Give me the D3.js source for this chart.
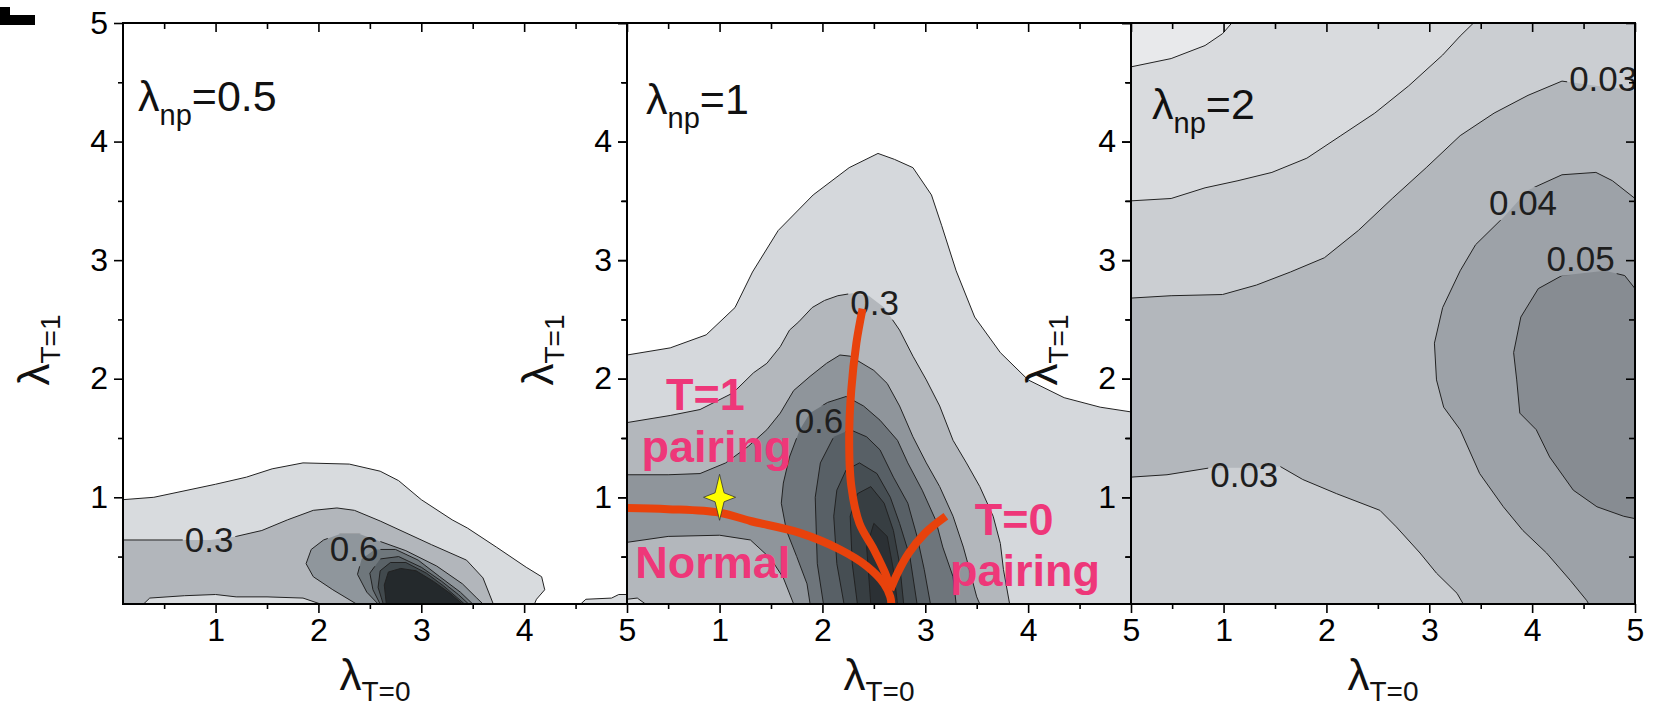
<!DOCTYPE html>
<html>
<head>
<meta charset="utf-8">
<script src="https://cdn.jsdelivr.net/npm/d3@7"></script>
<style>
  body { margin: 0; background: #fff; }
  text { font-family: "Liberation Sans", Arial, sans-serif; }
</style>
</head>
<body>
<svg id="chart" width="1653" height="709"></svg>
<script>
// ticks
const majorTicks = [1, 2, 3, 4, 5];
const minorTicks = [0.5, 1.5, 2.5, 3.5, 4.5];
const xLabels = [1, 2, 3, 4, 5];
const yLabelsFirst = [1, 2, 3, 4, 5];
const yLabelsOther = [1, 2, 3, 4];
const npValues = ["0.5", "1", "2"];

// panel 1 : lambda_np = 0.5   points are [lambda T=0, lambda T=1]
const p1Line1 = [[0.1,0.98],[0.4,1.0],[1.0,1.11],[1.3,1.17],[1.55,1.24],[1.85,1.29],[2.3,1.28],[2.6,1.22],[2.78,1.14],[3.0,0.98],[3.3,0.81],[3.45,0.74],[3.73,0.58],[4.02,0.41],[4.17,0.33],[4.2,0.22],[4.12,0.14],[4.1,0.1]];
const p1Sliver = [[4.55,0.1],[4.6,0.14],[4.85,0.15],[4.92,0.18],[5,0.18],[5,0.1]];
const p1Line2 = [[0.1,0.64],[0.95,0.64],[1.2,0.67],[1.45,0.72],[1.7,0.81],[1.95,0.89],[2.18,0.91],[2.35,0.89],[2.6,0.8],[2.9,0.68],[3.1,0.6],[3.44,0.47],[3.6,0.32],[3.7,0.1]];
const p1Strip = [[0.3,0.1],[0.36,0.15],[0.7,0.17],[1.0,0.18],[1.2,0.16],[1.5,0.16],[1.85,0.15],[2.02,0.1]];
const p1Line3 = [[2.37,0.1],[2.14,0.22],[1.95,0.33],[1.88,0.44],[1.93,0.56],[2.05,0.64],[2.21,0.69],[2.4,0.69],[2.56,0.64],[2.85,0.55],[3.15,0.42],[3.4,0.27],[3.54,0.15],[3.6,0.1]];
const p1Line4 = [[2.58,0.1],[2.47,0.2],[2.38,0.35],[2.42,0.48],[2.55,0.56],[2.75,0.56],[2.97,0.47],[3.18,0.33],[3.38,0.2],[3.5,0.1]];
const p1Line5 = [[2.6,0.1],[2.53,0.22],[2.5,0.36],[2.6,0.48],[2.78,0.5],[3.0,0.41],[3.2,0.29],[3.36,0.18],[3.46,0.1]];
const p1Line6 = [[2.63,0.1],[2.58,0.24],[2.6,0.38],[2.7,0.45],[2.85,0.45],[3.05,0.36],[3.22,0.25],[3.42,0.1]];
const p1Line7 = [[2.66,0.1],[2.64,0.26],[2.68,0.37],[2.8,0.4],[2.95,0.38],[3.12,0.29],[3.28,0.19],[3.4,0.1]];
const p1Colors = ["#d8dbde", "#b2b6bb", "#8f969c", "#6f777c", "#5a6267", "#41494d", "#24292c"];
const p1LabelText = ["0.3", "0.6"];
const p1LabelAt = [[0.7, 0.54], [2.11, 0.46]];

// panel 2 : lambda_np = 1
const p2Line1 = [[0.1,2.2],[0.52,2.26],[0.87,2.37],[1.15,2.6],[1.32,2.9],[1.57,3.25],[1.91,3.55],[2.26,3.78],[2.54,3.9],[2.7,3.85],[2.88,3.78],[3.06,3.55],[3.16,3.29],[3.3,2.91],[3.48,2.52],[3.73,2.22],[4.0,1.99],[4.35,1.84],[4.7,1.76],[5.0,1.72]];
const p2Line2 = [[0.1,1.63],[0.52,1.69],[0.81,1.74],[1.13,1.88],[1.33,2.05],[1.46,2.13],[1.59,2.27],[1.68,2.41],[1.77,2.48],[1.9,2.6],[2.02,2.66],[2.15,2.7],[2.29,2.72],[2.45,2.7],[2.6,2.6],[2.75,2.41],[2.88,2.19],[3.01,1.99],[3.14,1.77],[3.27,1.48],[3.4,1.29],[3.53,1.09],[3.66,0.84],[3.73,0.61],[3.76,0.39],[3.82,0.1]];
const p2Sliver = [[0.1,0.1],[0.1,0.14],[0.2,0.15],[0.28,0.1]];
const p2Line3 = [[0.1,1.19],[0.5,1.19],[0.81,1.2],[1.06,1.29],[1.28,1.43],[1.46,1.57],[1.59,1.71],[1.72,1.9],[1.88,2.02],[2.04,2.13],[2.17,2.2],[2.27,2.19],[2.5,2.07],[2.63,1.96],[2.75,1.77],[2.88,1.51],[3.01,1.29],[3.14,1.09],[3.27,0.84],[3.37,0.58],[3.43,0.39],[3.5,0.16],[3.53,0.1]];
const p2Line3Low = [[1.72,0.1],[1.62,0.32],[1.5,0.48],[1.3,0.64],[1.0,0.68],[0.5,0.67],[0.1,0.62]];
const p2Line4 = [[1.88,0.1],[1.85,0.27],[1.75,0.5],[1.65,0.72],[1.6,0.95],[1.62,1.12],[1.68,1.34],[1.78,1.57],[1.88,1.71],[2.05,1.8],[2.23,1.85],[2.4,1.77],[2.56,1.65],[2.73,1.48],[2.83,1.29],[2.97,1.06],[3.1,0.81],[3.17,0.58],[3.27,0.33],[3.3,0.1]];
const p2Line5 = [[2.01,0.1],[1.95,0.44],[1.93,1.0],[1.98,1.29],[2.11,1.51],[2.27,1.57],[2.43,1.51],[2.56,1.4],[2.69,1.17],[2.83,0.95],[2.92,0.67],[2.99,0.39],[3.05,0.1]];
const p2Line6 = [[2.21,0.1],[2.14,0.44],[2.11,0.84],[2.14,1.06],[2.23,1.23],[2.36,1.29],[2.53,1.2],[2.66,1.0],[2.75,0.78],[2.85,0.5],[2.92,0.1]];
const p2Line7 = [[2.34,0.1],[2.29,0.44],[2.27,0.84],[2.34,1.03],[2.47,1.09],[2.6,0.95],[2.69,0.72],[2.75,0.44],[2.79,0.1]];
const p2Line8 = [[2.47,0.1],[2.43,0.58],[2.5,0.78],[2.63,0.67],[2.69,0.39],[2.73,0.1]];
const p2Colors = ["#d5d8dc", "#b3b7bc", "#8f959b", "#6e757b", "#586066", "#464e53", "#373e42", "#2b3034"];
const p2LabelText = ["0.3", "0.6"];
const p2LabelAt = [[2.27, 2.54], [1.73, 1.54]];

// phase boundaries and point in panel 2
const normalBoundary = [[0.1,0.91],[0.5,0.9],[1.0,0.87],[1.3,0.8],[1.78,0.7],[2.17,0.56],[2.43,0.42],[2.6,0.27],[2.66,0.16],[2.67,0.1]];
const t1Boundary = [[2.39,2.59],[2.33,2.3],[2.28,1.9],[2.26,1.5],[2.28,1.1],[2.36,0.78],[2.5,0.56],[2.62,0.34],[2.66,0.22]];
const t0Boundary = [[3.2,0.84],[3.0,0.7],[2.84,0.53],[2.73,0.36],[2.66,0.22]];
const starPoint = [1.0, 1.0];
const phaseText = ["T=1", "pairing", "Normal", "T=0", "pairing"];
const phaseAt = [[0.48, 1.74], [0.24, 1.3], [0.18, 0.32], [3.48, 0.68], [3.24, 0.25]];

// panel 3 : lambda_np = 2
const p3Line0 = [[0.1,4.63],[0.49,4.7],[0.82,4.81],[0.99,4.91],[1.08,5.0]];
const p3Line1 = [[0.1,3.5],[0.49,3.52],[0.82,3.61],[1.14,3.67],[1.47,3.74],[1.81,3.86],[2.14,4.05],[2.47,4.24],[2.8,4.47],[3.13,4.73],[3.3,4.89],[3.43,5.0]];
const p3Line2 = [[0.1,2.68],[0.49,2.7],[0.99,2.71],[1.32,2.79],[1.65,2.9],[1.98,3.02],[2.31,3.25],[2.64,3.52],[2.97,3.78],[3.3,4.05],[3.63,4.24],[3.96,4.39],[4.29,4.51],[4.62,4.47],[5.0,4.43]];
const p3Line2Low = [[0.1,1.17],[0.45,1.19],[0.88,1.25],[1.3,1.25],[1.55,1.26],[1.77,1.15],[2.1,1.03],[2.52,0.89],[2.68,0.75],[2.91,0.53],[3.07,0.36],[3.27,0.19],[3.33,0.1]];
const p3Line3 = [[5.0,3.52],[4.78,3.67],[4.62,3.74],[4.29,3.72],[3.96,3.59],[3.72,3.36],[3.45,3.13],[3.3,2.91],[3.13,2.6],[3.05,2.3],[3.07,1.99],[3.14,1.76],[3.3,1.57],[3.49,1.2],[3.72,0.92],[3.91,0.72],[4.14,0.53],[4.37,0.3],[4.53,0.13],[4.55,0.1]];
const p3Line4 = [[5.0,2.76],[4.9,2.87],[4.71,2.91],[4.29,2.87],[4.06,2.76],[3.89,2.52],[3.82,2.22],[3.85,1.99],[3.88,1.71],[4.04,1.57],[4.17,1.34],[4.4,1.06],[4.63,0.92],[4.89,0.84],[5.0,0.82]];
const p3Colors = ["#e8e9eb", "#d9dbde", "#cbced2", "#b3b7bc", "#9da2a8", "#878c92"];
const p3LabelText = ["0.03", "0.04", "0.05", "0.03"];
const p3LabelAt = [[4.36, 4.43], [3.58, 3.38], [4.14, 2.91], [0.87, 1.09]];

const lo = 0.1, hi = 5;
const panels = [
  {
    base: "#ffffff",
    regions: [
      [p1Line1.concat([[lo, lo]]), p1Colors[0]],
      [p1Sliver, p1Colors[0]],
      [p1Line2.concat([[lo, lo]]), p1Colors[1]],
      [p1Strip, p1Colors[0]],
      [p1Line3, p1Colors[2]],
      [p1Line4, p1Colors[3]],
      [p1Line5, p1Colors[4]],
      [p1Line6, p1Colors[5]],
      [p1Line7, p1Colors[6]]
    ],
    labels: p1LabelText.map((t, i) => [t, p1LabelAt[i]]),
    yLabels: yLabelsFirst
  },
  {
    base: "#ffffff",
    regions: [
      [p2Line1.concat([[hi, lo], [lo, lo]]), p2Colors[0]],
      [p2Line2.concat([[lo, lo]]), p2Colors[1]],
      [p2Sliver, p2Colors[0]],
      [p2Line3.concat(p2Line3Low), p2Colors[2]],
      [p2Line4, p2Colors[3]],
      [p2Line5, p2Colors[4]],
      [p2Line6, p2Colors[5]],
      [p2Line7, p2Colors[6]],
      [p2Line8, p2Colors[7]]
    ],
    labels: p2LabelText.map((t, i) => [t, p2LabelAt[i]]),
    yLabels: yLabelsOther
  },
  {
    base: p3Colors[0],
    regions: [
      [p3Line0.concat([[hi, hi], [hi, lo], [lo, lo]]), p3Colors[1]],
      [p3Line1.concat([[hi, hi], [hi, lo], [lo, lo]]), p3Colors[2]],
      [p3Line2.concat([[hi, lo]], p3Line2Low.slice().reverse()), p3Colors[3]],
      [p3Line3.concat([[hi, lo]]), p3Colors[4]],
      [p3Line4, p3Colors[5]]
    ],
    labels: p3LabelText.map((t, i) => [t, p3LabelAt[i]]),
    yLabels: yLabelsOther
  }
];

// layout
const panelLeft = [123, 627, 1131];
const plotW = 504, plotTop = 23, plotBottom = 604;
const npLeft = [15, 19, 21];
const npBase = [111, 114, 119];

const svg = d3.select("#chart");
const defs = svg.append("defs");
svg.append("rect").attr("width", 1653).attr("height", 709).attr("fill", "#fff");

const scales = panels.map((p, i) => ({
  x: d3.scaleLinear().domain([lo, hi]).range([panelLeft[i], panelLeft[i] + plotW]),
  y: d3.scaleLinear().domain([lo, hi]).range([plotBottom, plotTop])
}));

// contour fills, lines and labels
panels.forEach((p, i) => {
  const {x, y} = scales[i];
  const gen = d3.line().x(d => x(d[0])).y(d => y(d[1]));

  defs.append("clipPath").attr("id", "clip" + i)
    .append("rect")
    .attr("x", x(lo)).attr("y", y(hi))
    .attr("width", plotW).attr("height", plotBottom - plotTop);

  const plot = svg.append("g").attr("clip-path", `url(#clip${i})`);
  plot.append("rect")
    .attr("x", x(lo)).attr("y", y(hi))
    .attr("width", plotW).attr("height", plotBottom - plotTop)
    .attr("fill", p.base);

  plot.selectAll("path.fill")
    .data(p.regions)
    .join("path")
    .attr("class", "fill")
    .attr("d", d => gen(d[0]) + "Z")
    .attr("fill", d => d[1]);

  const mask = defs.append("mask").attr("id", "mask" + i)
    .attr("maskUnits", "userSpaceOnUse")
    .attr("x", 0).attr("y", 0).attr("width", 1653).attr("height", 709);
  mask.append("rect").attr("width", 1653).attr("height", 709).attr("fill", "#fff");

  plot.append("g").attr("mask", `url(#mask${i})`)
    .selectAll("path")
    .data(p.regions)
    .join("path")
    .attr("d", d => gen(d[0]) + "Z")
    .attr("fill", "none")
    .attr("stroke", "#222")
    .attr("stroke-width", 1);

  const labels = plot.selectAll("text.clabel")
    .data(p.labels)
    .join("text")
    .attr("class", "clabel")
    .attr("x", d => x(d[1][0]))
    .attr("y", d => y(d[1][1]))
    .attr("font-size", 35)
    .attr("fill", "#1e1e1e")
    .text(d => d[0]);

  labels.each(function() {
    const b = this.getBBox();
    mask.append("rect")
      .attr("x", b.x - 2).attr("y", b.y + 4)
      .attr("width", b.width + 4).attr("height", b.height - 6)
      .attr("fill", "#000");
  });
});

// phase diagram overlay on panel 2
{
  const {x, y} = scales[1];
  const curve = d3.line().x(d => x(d[0])).y(d => y(d[1])).curve(d3.curveCatmullRom.alpha(0.5));
  const over = svg.append("g").attr("clip-path", "url(#clip1)");

  over.selectAll("text.phase")
    .data(phaseText)
    .join("text")
    .attr("class", "phase")
    .attr("x", (d, i) => x(phaseAt[i][0]))
    .attr("y", (d, i) => y(phaseAt[i][1]))
    .attr("font-size", 45)
    .attr("font-weight", "bold")
    .attr("fill", "#ee3779")
    .text(d => d);

  over.selectAll("path.boundary")
    .data([normalBoundary, t1Boundary, t0Boundary])
    .join("path")
    .attr("class", "boundary")
    .attr("d", curve)
    .attr("fill", "none")
    .attr("stroke", "#e8420c")
    .attr("stroke-width", 8)
    .attr("stroke-linejoin", "round");

  const star = [[0,-23],[4.5,-4.5],[16,0],[4.5,4.5],[0,23],[-4.5,4.5],[-16,0],[-4.5,-4.5]];
  over.append("path")
    .attr("transform", `translate(${x(starPoint[0])},${y(starPoint[1])})`)
    .attr("d", d3.line()(star) + "Z")
    .attr("fill", "#ffff00")
    .attr("stroke", "#333")
    .attr("stroke-width", 0.8);
}

// frames, axes and titles
panels.forEach((p, i) => {
  const {x, y} = scales[i];
  const g = svg.append("g");

  const styleAxis = sel => {
    sel.select(".domain").remove();
    sel.selectAll("line").attr("stroke", "#000").attr("stroke-width", 1.6);
    sel.selectAll("text").attr("font-size", 32).attr("fill", "#000")
      .attr("font-family", "Liberation Sans, Arial, sans-serif");
  };

  g.append("g").attr("transform", `translate(${x(lo)},0)`)
    .call(d3.axisLeft(y).tickValues(majorTicks).tickSize(9).tickPadding(6)
      .tickFormat(d => p.yLabels.includes(d) ? d : ""))
    .call(styleAxis);
  g.append("g").attr("transform", `translate(${x(lo)},0)`)
    .call(d3.axisLeft(y).tickValues(minorTicks).tickSize(5).tickFormat(""))
    .call(styleAxis);
  g.append("g").attr("transform", `translate(0,${y(lo)})`)
    .call(d3.axisBottom(x).tickValues(majorTicks).tickSize(9).tickPadding(5)
      .tickFormat(d => xLabels.includes(d) ? d : ""))
    .call(styleAxis);
  g.append("g").attr("transform", `translate(0,${y(lo)})`)
    .call(d3.axisBottom(x).tickValues(minorTicks).tickSize(5).tickFormat(""))
    .call(styleAxis);
  g.append("g").attr("transform", `translate(0,${y(hi)})`)
    .call(d3.axisTop(x).tickValues(majorTicks).tickSize(-9).tickFormat(""))
    .call(styleAxis);
  g.append("g").attr("transform", `translate(0,${y(hi)})`)
    .call(d3.axisTop(x).tickValues(minorTicks).tickSize(-6).tickFormat(""))
    .call(styleAxis);
  g.append("g").attr("transform", `translate(${x(hi)},0)`)
    .call(d3.axisRight(y).tickValues(majorTicks).tickSize(-9).tickFormat(""))
    .call(styleAxis);
  g.append("g").attr("transform", `translate(${x(hi)},0)`)
    .call(d3.axisRight(y).tickValues(minorTicks).tickSize(-6).tickFormat(""))
    .call(styleAxis);

  g.append("rect")
    .attr("x", x(lo)).attr("y", y(hi))
    .attr("width", plotW).attr("height", plotBottom - plotTop)
    .attr("fill", "none").attr("stroke", "#000").attr("stroke-width", 2);

  // x title
  const xt = g.append("text")
    .attr("x", x(lo) + plotW / 2).attr("y", 690)
    .attr("text-anchor", "middle").attr("fill", "#111");
  xt.append("tspan").attr("font-size", 44).text("λ");
  xt.append("tspan").attr("font-size", 28).attr("dy", 11).text("T=0");

  // y title
  const yt = g.append("text")
    .attr("transform", `translate(${x(lo) - 74},350) rotate(-90)`)
    .attr("text-anchor", "middle").attr("fill", "#111");
  yt.append("tspan").attr("font-size", 44).text("λ");
  yt.append("tspan").attr("font-size", 28).attr("dy", 11).text("T=1");

  // lambda_np label
  const nt = g.append("text")
    .attr("x", x(lo) + npLeft[i]).attr("y", npBase[i]).attr("fill", "#111");
  nt.append("tspan").attr("font-size", 43).text("λ");
  nt.append("tspan").attr("font-size", 29).attr("dy", 14).text("np");
  nt.append("tspan").attr("font-size", 43).attr("dy", -14).text("=" + npValues[i]);
});

// cropped panel letter at top left
svg.append("path").attr("d", "M0,7H10V15H35V25H0Z").attr("fill", "#000");
</script>
</body>
</html>
